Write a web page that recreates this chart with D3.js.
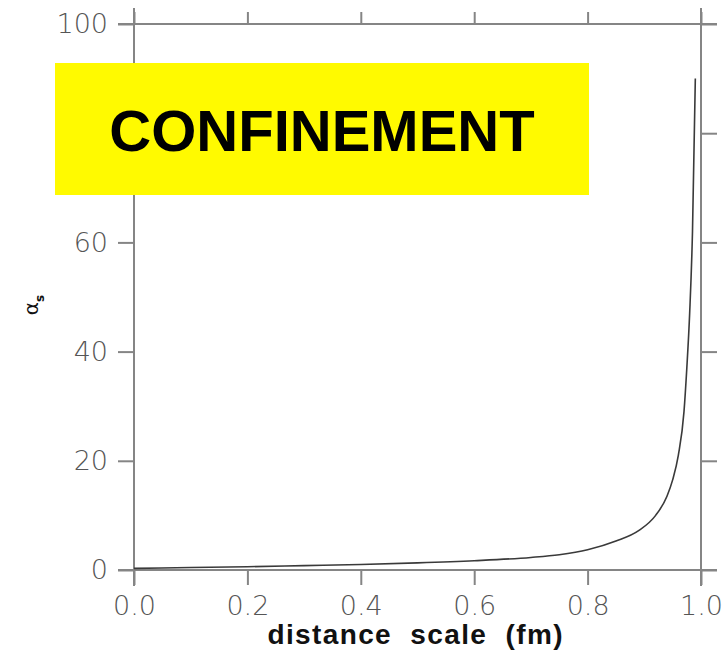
<!DOCTYPE html>
<html>
<head>
<meta charset="utf-8">
<script src="https://cdn.jsdelivr.net/npm/d3@7.9.0/dist/d3.min.js"></script>
<style>
  body { margin: 0; background: #fff; }
  svg { display: block; }
</style>
</head>
<body>
<div id="chart"></div>
<script>
// distance (fm) and alpha_s
const distance = [0.0, 0.1, 0.2, 0.3, 0.4, 0.5, 0.6, 0.7, 0.75, 0.8, 0.85, 0.89, 0.92, 0.94, 0.95, 0.96, 0.97, 0.975, 0.98, 0.985, 0.99];
const alphaS = [0.3, 0.45, 0.6, 0.8, 1.0, 1.3, 1.7, 2.3, 2.8, 3.7, 5.3, 7.2, 10, 13.5, 16.5, 21, 29, 37, 47, 62, 90];

const xTicks = [0, 0.2, 0.4, 0.6, 0.8, 1.0];
const yTicks = [0, 20, 40, 60, 80, 100];
const xTitle = 'distance\u00a0\u00a0scale\u00a0\u00a0(fm)';
const banner = 'CONFINEMENT';

const width = 727;
const height = 651;

const svg = d3
  .select('#chart')
  .append('svg')
  .attr('width', width)
  .attr('height', height)
  .attr('viewBox', `0 0 ${width} ${height}`);

const x = d3.scaleLinear().domain([0, 1]).range([134, 701]);
const y = d3.scaleLinear().domain([0, 100]).range([570, 24]);

const axisColor = '#858585';
const ext = 16;

// frame lines, crossing at the corners like the original
const frame = svg.append('g').attr('stroke', axisColor).attr('stroke-width', 2);
frame.append('line')
  .attr('x1', x.range()[0] - ext).attr('x2', x.range()[1] + ext)
  .attr('y1', y(0)).attr('y2', y(0));
frame.append('line')
  .attr('x1', x.range()[0] - ext).attr('x2', x.range()[1] + ext)
  .attr('y1', y(100)).attr('y2', y(100));
frame.append('line')
  .attr('x1', x(0)).attr('x2', x(0))
  .attr('y1', y(100) - ext).attr('y2', y(0) + ext);
frame.append('line')
  .attr('x1', x(1)).attr('x2', x(1))
  .attr('y1', y(100) - ext).attr('y2', y(0) + ext);

function styleAxis(g) {
  g.select('.domain').remove();
  g.selectAll('.tick line').attr('stroke', axisColor).attr('stroke-width', 2);
  g.selectAll('.tick text')
    .attr('fill', '#555')
    .style('font-family', '"DejaVu Sans", sans-serif')
    .style('font-weight', '200')
    .style('font-size', '27px');
}

svg.append('g')
  .attr('transform', `translate(${x(0)},0)`)
  .call(d3.axisLeft(y).tickValues(yTicks).tickSize(16).tickPadding(10))
  .call(styleAxis);

svg.append('g')
  .attr('transform', `translate(${x(1)},0)`)
  .call(d3.axisRight(y).tickValues(yTicks).tickSize(16).tickFormat(''))
  .call(styleAxis);

svg.append('g')
  .attr('transform', `translate(0,${y(0)})`)
  .call(d3.axisBottom(x).tickValues(xTicks).tickSize(15).tickPadding(11).tickFormat(d3.format('.1f')))
  .call(styleAxis);

svg.append('g')
  .attr('transform', `translate(0,${y(100)})`)
  .call(d3.axisTop(x).tickValues(xTicks).tickSize(12).tickFormat(''))
  .call(styleAxis);

// curve
const pts = distance.map((d, i) => [d, alphaS[i]]);
svg.append('path')
  .datum(pts)
  .attr('fill', 'none')
  .attr('stroke', '#3a3a3a')
  .attr('stroke-width', 1.6)
  .attr('d', d3.line().x((d) => x(d[0])).y((d) => y(d[1])).curve(d3.curveMonotoneX));

// axis titles
svg.append('text')
  .attr('x', 415)
  .attr('y', 644)
  .attr('text-anchor', 'middle')
  .attr('textLength', 295)
  .attr('lengthAdjust', 'spacing')
  .style('font-family', '"Liberation Sans", Arial, sans-serif')
  .style('font-weight', 'bold')
  .style('font-size', '28px')
  .attr('fill', '#111')
  .text(xTitle);

const yl = svg.append('text')
  .attr('transform', 'translate(38,305) rotate(-90)')
  .attr('text-anchor', 'middle')
  .style('font-family', '"DejaVu Sans", sans-serif')
  .style('font-size', '20px')
  .attr('fill', '#111');
yl.append('tspan').text('\u03b1');
yl.append('tspan').attr('dy', 6).style('font-size', '12px').style('font-weight', 'bold').text('s');

// yellow banner
svg.append('rect')
  .attr('x', 55)
  .attr('y', 63)
  .attr('width', 534)
  .attr('height', 132)
  .attr('fill', '#fffa00');

svg.append('text')
  .attr('x', 322)
  .attr('y', 151)
  .attr('text-anchor', 'middle')
  .style('font-family', '"Liberation Sans", Arial, sans-serif')
  .style('font-weight', 'bold')
  .style('font-size', '58px')
  .attr('fill', '#000')
  .text(banner);
</script>
</body>
</html>
